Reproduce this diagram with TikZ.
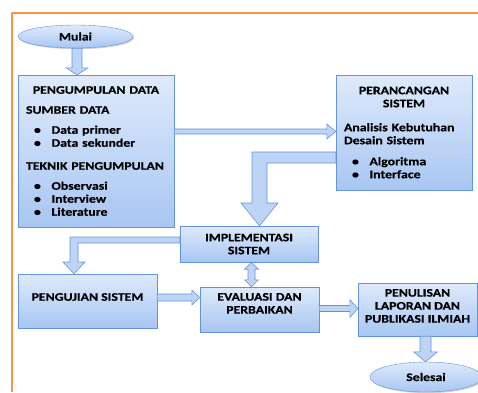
\documentclass[tikz,border=0pt]{standalone}
\usepackage{fontspec}
\setmainfont{Carlito}[FakeStretch=1.2, BoldFeatures={FakeBold=0.6}]
\usetikzlibrary{shapes.geometric,shadows,calc}
\setlength{\parindent}{0pt}

\definecolor{boxtop}{HTML}{DEEAFC}
\definecolor{boxbot}{HTML}{A8C6F2}
\definecolor{boxline}{HTML}{6594D6}
\definecolor{arrowfill}{HTML}{BDD4F6}
\definecolor{framecol}{HTML}{F79646}

\newcommand{\bul}[1]{\hspace*{8pt}\makebox[17.5pt][l]{\textbullet}#1\par}
\newcommand{\lift}[2]{\raisebox{#1}[\height][\depth]{#2}}

% straight block arrows: tail, tip, half shaft, half head, head length
\newcommand{\rightblock}[5]{%
  \draw[barrow] ($(#1)+(0,-#3)$) -- ($(#2)+(-#5,-#3)$) -- ($(#2)+(-#5,-#4)$) -- (#2)
    -- ($(#2)+(-#5,#4)$) -- ($(#2)+(-#5,#3)$) -- ($(#1)+(0,#3)$) -- cycle;}
\newcommand{\downblock}[5]{%
  \draw[barrow] ($(#1)+(-#3,0)$) -- ($(#2)+(-#3,-#5)$) -- ($(#2)+(-#4,-#5)$) -- (#2)
    -- ($(#2)+(#4,-#5)$) -- ($(#2)+(#3,-#5)$) -- ($(#1)+(#3,0)$) -- cycle;}
\newcommand{\updownblock}[5]{%
  \draw[barrow] (#1) -- ($(#1)+(#4,#5)$) -- ($(#1)+(#3,#5)$) -- ($(#2)+(#3,-#5)$)
    -- ($(#2)+(#4,-#5)$) -- (#2) -- ($(#2)+(-#4,-#5)$) -- ($(#2)+(-#3,-#5)$)
    -- ($(#1)+(-#3,#5)$) -- ($(#1)+(-#4,#5)$) -- cycle;}

\tikzset{
  box/.style={draw=boxline, top color=boxtop, bottom color=boxbot, inner sep=0pt,
    font=\bfseries\fontsize{11.5}{13}\selectfont,
    drop shadow={shadow xshift=1.2pt, shadow yshift=-1.2pt, opacity=0.3, fill=black!60}},
  oval/.style={box, ellipse},
  barrow/.style={draw=boxline, fill=arrowfill, line width=0.6pt, line join=miter}
}

\begin{document}
\begin{tikzpicture}[x=1pt,y=-1pt]
\useasboundingbox (0,0) rectangle (478,392);
\draw[framecol, line width=1.6pt] (12,392) -- (12,13) -- (478,13);

\node[oval, minimum width=115pt, minimum height=23pt] (mulai) at (75.5,36.5) {Mulai};

\node[box, minimum width=156pt, minimum height=152pt, text width=140pt, align=left] (pd) at (96,151) {%
  {\centering PENGUMPULAN DATA\par}\vspace{7pt}
  SUMBER DATA\par\vspace{7pt}
  \bul{Data primer}
  \bul{Data sekunder}
  \vspace{10pt}
  TEKNIK PENGUMPULAN\par\vspace{7pt}
  \bul{Observasi}
  \bul{Interview}
  \bul{Literature}};

\node[box, minimum width=136pt, minimum height=115pt, text width=120pt, align=left] (ps) at (404,132.5) {%
  {\centering PERANCANGAN\par SISTEM\par}\vspace{11pt}
  Analisis Kebutuhan\par
  Desain Sistem\par\vspace{8pt}
  \bul{Algoritma}
  \bul{Interface}};

\node[box, minimum width=138pt, minimum height=36pt, align=center] (imp) at (249,244) {IMPLEMENTASI\\SISTEM};

\node[box, minimum width=139pt, minimum height=54pt] (pu) at (87.5,301) {\lift{4pt}{PENGUJIAN SISTEM}};

\node[box, minimum width=119pt, minimum height=45pt] (ev) at (259.5,309.5)
  {\lift{5pt}{\begin{tabular}{@{}c@{}}EVALUASI DAN\\PERBAIKAN\end{tabular}}};

\node[box, minimum width=119pt, minimum height=53pt] (pl) at (417.5,309.5)
  {\lift{2.5pt}{\begin{tabular}{@{}c@{}}PENULISAN\\LAPORAN DAN\\PUBLIKASI ILMIAH\end{tabular}}};

\node[oval, minimum width=112pt, minimum height=30pt] (sel) at (426,377) {Selesai};

% arrows between the steps
\downblock{mulai.south -| 77,0}{pd.north -| 77,0}{5}{11}{7}
\rightblock{pd.east |- 0,131.5}{ps.west |- 0,131.5}{2.5}{7.5}{9}
\draw[barrow] (ps.west |- 0,152) -- (252,152) -- (252,203) -- (241,203) -- (imp.north -| 259.5,0)
  -- (278,203) -- (267,203) -- (267,163) -- (ps.west |- 0,163) -- cycle;
\draw[barrow] (imp.west |- 0,237) -- (70,237) -- (70,262) -- (63,262) -- (pu.north -| 74,0)
  -- (85,262) -- (78,262) -- (78,243) -- (imp.west |- 0,243) -- cycle;
\rightblock{pu.east |- 0,297.5}{ev.west |- 0,297.5}{3.5}{7.5}{8}
\updownblock{imp.south -| 251.5,0}{ev.north -| 251.5,0}{3.5}{7}{7}
\rightblock{ev.east |- 0,308.5}{pl.west |- 0,308.5}{3}{9}{8}
\downblock{pl.south -| 425.5,0}{sel.north -| 425.5,0}{5.5}{12}{10}
\end{tikzpicture}
\end{document}
